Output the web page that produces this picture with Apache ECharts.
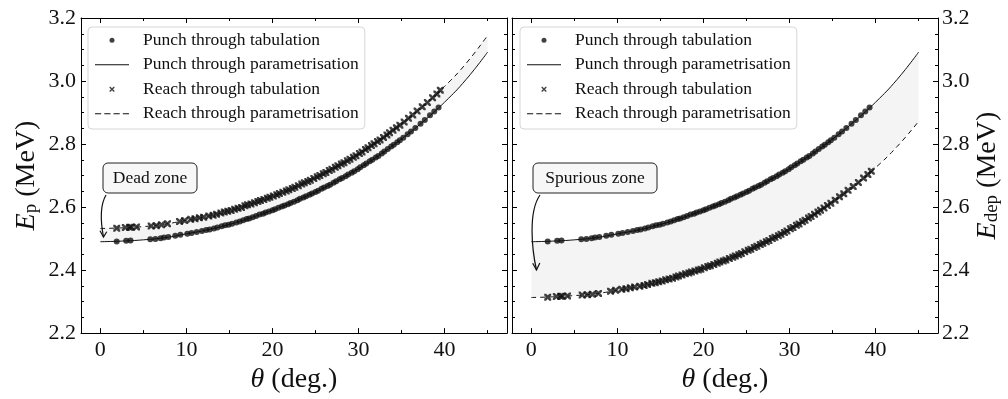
<!DOCTYPE html>
<html>
<head>
<meta charset="utf-8">
<script src="https://cdn.jsdelivr.net/npm/echarts@6/dist/echarts.min.js"></script>
<style>
  html, body { margin: 0; padding: 0; background: #fff; }
  #chart { width: 1008px; height: 399px; }
</style>
</head>
<body>
<div id="chart"></div>
<script>
// parametrisation curves (deg -> MeV), read every 2.5 deg
const paramTheta = [0, 2.5, 5, 7.5, 10, 12.5, 15, 17.5, 20, 22.5, 25, 27.5, 30, 32.5, 35, 37.5, 40, 42.5, 45];
const punchParam = [2.490, 2.492, 2.496, 2.503, 2.515, 2.528, 2.545, 2.566, 2.590, 2.617, 2.648, 2.683, 2.722, 2.766, 2.816, 2.871, 2.933, 3.005, 3.092];
const reachParamEp = [2.532, 2.534, 2.538, 2.546, 2.558, 2.571, 2.588, 2.610, 2.634, 2.661, 2.693, 2.728, 2.768, 2.813, 2.864, 2.920, 2.983, 3.056, 3.145];
const reachParamEdep = [2.313, 2.315, 2.319, 2.325, 2.336, 2.348, 2.364, 2.384, 2.406, 2.431, 2.460, 2.493, 2.529, 2.570, 2.616, 2.667, 2.725, 2.792, 2.872];

// punch through tabulation (same in both panels)
const punchTabTheta = [1.9, 3.0, 3.5, 5.8, 6.4, 7.0, 7.4, 7.9, 8.7, 9.3, 10.1, 10.6, 11.2, 11.8, 12.3, 12.7, 13.2, 13.6, 14.1, 14.5,
  14.9, 15.3, 15.8, 16.2, 16.6, 17.0, 17.3, 17.7, 18.1, 18.5, 18.9, 19.2, 19.6, 20.0, 20.3, 20.7, 21.1, 21.4, 21.8, 22.1,
  22.5, 22.9, 23.2, 23.6, 23.9, 24.3, 24.6, 25.0, 25.3, 25.7, 26.0, 26.4, 26.7, 27.1, 27.4, 27.8, 28.1, 28.5, 28.8, 29.2,
  29.5, 29.9, 30.2, 30.6, 30.9, 31.3, 31.6, 32.0, 32.3, 32.7, 33.0, 33.4, 33.8, 34.1, 34.5, 34.8, 35.2, 35.7, 36.1, 36.6,
  37.2, 37.7, 38.3, 38.8, 39.3];
const punchTabE = [2.491, 2.493, 2.494, 2.498, 2.499, 2.501, 2.503, 2.505, 2.509, 2.512, 2.515, 2.518, 2.521, 2.524, 2.527, 2.529, 2.532, 2.535, 2.539, 2.542,
  2.544, 2.547, 2.551, 2.554, 2.558, 2.562, 2.564, 2.568, 2.572, 2.576, 2.579, 2.583, 2.586, 2.590, 2.593, 2.598, 2.602, 2.605, 2.609, 2.613,
  2.617, 2.622, 2.626, 2.630, 2.634, 2.639, 2.643, 2.648, 2.652, 2.658, 2.662, 2.667, 2.671, 2.677, 2.682, 2.688, 2.692, 2.698, 2.703, 2.709,
  2.714, 2.720, 2.726, 2.733, 2.738, 2.745, 2.750, 2.757, 2.762, 2.770, 2.776, 2.784, 2.792, 2.798, 2.806, 2.812, 2.820, 2.831, 2.840, 2.851,
  2.864, 2.876, 2.891, 2.903, 2.916];

// reach through tabulation: E_p (left) and E_dep (right)
const reachTabTheta = [1.9, 2.9, 3.4, 3.6, 4.2, 5.9, 6.5, 7.1, 7.8, 9.2, 9.8, 10.5, 11.0, 11.5, 12.0, 12.6, 13.1, 13.5, 14.0, 14.4,
  14.8, 15.2, 15.6, 16.0, 16.4, 16.8, 17.1, 17.5, 17.9, 18.3, 18.6, 19.0, 19.4, 19.7, 20.1, 20.5, 20.8, 21.2, 21.6, 21.9,
  22.3, 22.6, 23.0, 23.4, 23.7, 24.1, 24.4, 24.8, 25.2, 25.5, 25.9, 26.2, 26.6, 26.9, 27.3, 27.6, 28.0, 28.3, 28.7, 29.0,
  29.4, 29.7, 30.1, 30.4, 30.8, 31.1, 31.5, 31.8, 32.2, 32.5, 32.9, 33.3, 33.6, 34.0, 34.4, 34.8, 35.3, 35.8, 36.3, 36.8,
  37.4, 38.0, 38.6, 39.1, 39.5];
const reachTabEp = [2.533, 2.535, 2.536, 2.536, 2.537, 2.540, 2.541, 2.544, 2.547, 2.554, 2.557, 2.561, 2.563, 2.566, 2.568, 2.572, 2.574, 2.577, 2.581, 2.584,
  2.587, 2.589, 2.593, 2.596, 2.599, 2.604, 2.607, 2.610, 2.614, 2.618, 2.621, 2.624, 2.628, 2.631, 2.635, 2.639, 2.643, 2.647, 2.651, 2.655,
  2.659, 2.663, 2.668, 2.673, 2.677, 2.681, 2.685, 2.691, 2.696, 2.700, 2.706, 2.710, 2.716, 2.720, 2.726, 2.731, 2.737, 2.741, 2.747, 2.752,
  2.758, 2.763, 2.770, 2.775, 2.783, 2.788, 2.795, 2.801, 2.808, 2.813, 2.821, 2.829, 2.836, 2.844, 2.852, 2.860, 2.870, 2.882, 2.892, 2.905,
  2.918, 2.932, 2.947, 2.959, 2.971];
const reachTabEdep = [2.314, 2.316, 2.317, 2.317, 2.318, 2.321, 2.322, 2.323, 2.326, 2.333, 2.336, 2.339, 2.341, 2.344, 2.346, 2.349, 2.351, 2.354, 2.358, 2.360,
  2.363, 2.365, 2.369, 2.372, 2.374, 2.378, 2.381, 2.384, 2.388, 2.391, 2.394, 2.397, 2.400, 2.403, 2.407, 2.411, 2.414, 2.418, 2.422, 2.426,
  2.429, 2.432, 2.437, 2.441, 2.445, 2.449, 2.453, 2.458, 2.463, 2.466, 2.472, 2.476, 2.481, 2.485, 2.490, 2.494, 2.500, 2.504, 2.509, 2.514,
  2.519, 2.524, 2.531, 2.535, 2.542, 2.546, 2.553, 2.558, 2.565, 2.570, 2.577, 2.584, 2.590, 2.597, 2.605, 2.612, 2.622, 2.633, 2.642, 2.653,
  2.665, 2.678, 2.692, 2.703, 2.714];

const xMajor = [0, 10, 20, 30, 40];
const xMinor = [5, 15, 25, 35, 45];

const FONT = 'Liberation Serif';
const INK = '#111';
const zip = (xs, ys) => xs.map((x, i) => [x, ys[i]]);

const crossPath = 'path://M0,0L2,0L5,3L8,0L10,0L10,2L7,5L10,8L10,10L8,10L5,7L2,10L0,10L0,8L3,5L0,2Z';
const crossBold = 'path://M0,0L2.6,0L5,2.4L7.4,0L10,0L10,2.6L7.6,5L10,7.4L10,10L7.4,10L5,7.6L2.6,10L0,10L0,7.4L2.4,5L0,2.6Z';

function xAxes(grid) {
  const base = { type: 'value', gridIndex: grid, min: -2.25, max: 47.25, z: 10, splitLine: { show: false } };
  const line = { show: true, onZero: false, lineStyle: { color: '#000', width: 1 } };
  const tick = (vals, len) => ({ show: true, inside: true, length: len, customValues: vals, lineStyle: { color: '#000', width: 1 } });
  return [
    Object.assign({}, base, {
      position: 'bottom', axisLine: line, axisTick: tick(xMajor, 5),
      axisLabel: { customValues: xMajor, margin: 6, fontFamily: FONT, fontSize: 22, color: INK },
      name: '{i|θ} (deg.)', nameLocation: 'middle', nameGap: 28,
      nameTextStyle: { fontFamily: FONT, fontSize: 28, color: INK, rich: { i: { fontFamily: FONT, fontSize: 28, fontStyle: 'italic', color: INK } } }
    }),
    Object.assign({}, base, { position: 'bottom', axisLine: { show: false }, axisTick: tick(xMinor, 3), axisLabel: { show: false } }),
    Object.assign({}, base, { position: 'top', axisLine: line, axisTick: tick(xMajor, 5), axisLabel: { show: false } }),
    Object.assign({}, base, { position: 'top', axisLine: { show: false }, axisTick: tick(xMinor, 3), axisLabel: { show: false } })
  ];
}

function yAxis(grid, position, withLabel, name, gap) {
  const ax = {
    type: 'value', gridIndex: grid, position: position, min: 2.2, max: 3.2, interval: 0.2, z: 10,
    axisLine: { show: true, onZero: false, lineStyle: { color: '#000', width: 1 } },
    axisTick: { show: true, inside: true, length: 5, lineStyle: { color: '#000' } },
    minorTick: { show: true, splitNumber: 4, length: 3, lineStyle: { color: '#000' } },
    splitLine: { show: false },
    axisLabel: { show: withLabel, margin: position === 'left' ? 5 : 4, fontFamily: FONT, fontSize: 22, color: INK,
      formatter: v => v.toFixed(1) }
  };
  if (name) {
    Object.assign(ax, {
      name: name, nameLocation: 'middle', nameGap: gap, nameRotate: 90,
      nameTextStyle: {
        fontFamily: FONT, fontSize: 28, color: INK,
        rich: {
          e: { fontFamily: FONT, fontSize: 28, fontStyle: 'italic', color: INK },
          s: { fontFamily: FONT, fontSize: 19, color: INK, verticalAlign: 'bottom', lineHeight: 12 }
        }
      }
    });
  }
  return ax;
}

function legend(left) {
  return {
    orient: 'vertical', left: left, top: 27, selectedMode: false,
    itemWidth: 34, itemHeight: 5, itemGap: 0,
    padding: [1, 6, 3, 7],
    backgroundColor: 'rgba(255,255,255,0.85)', borderColor: '#d6d6d6', borderWidth: 1, borderRadius: 4,
    textStyle: { fontFamily: FONT, fontSize: 17.5, color: INK, lineHeight: 24.5, padding: [0, 0, 0, 9] },
    data: [
      { name: 'Punch through tabulation', icon: 'circle', itemStyle: { color: INK } },
      { name: 'Punch through parametrisation', icon: 'path://M0,0H34V1H0Z', itemStyle: { color: INK } },
      { name: 'Reach through tabulation', icon: crossPath, itemStyle: { color: INK } },
      { name: 'Reach through parametrisation', icon: 'path://M0,0H6V1H0ZM9,0H15V1H9ZM18,0H24V1H18ZM27,0H33V1H27Z', itemStyle: { color: INK } }
    ]
  };
}

function panelSeries(xi, yi, reachParam, reachTab) {
  return [
    {
      // grey zone between the two parametrisations
      type: 'custom', xAxisIndex: xi, yAxisIndex: yi, z: 1, silent: true, clip: true,
      data: [[paramTheta[0], punchParam[0]]],
      renderItem: function (params, api) {
        const top = paramTheta.map((t, i) => api.coord([t, Math.max(punchParam[i], reachParam[i])]));
        const bottom = paramTheta.map((t, i) => api.coord([t, Math.min(punchParam[i], reachParam[i])])).reverse();
        return { type: 'polygon', shape: { points: top.concat(bottom) }, style: { fill: '#f4f4f4', stroke: null } };
      }
    },
    {
      name: 'Punch through parametrisation', type: 'line', xAxisIndex: xi, yAxisIndex: yi, z: 3,
      data: zip(paramTheta, punchParam), smooth: true, showSymbol: false, symbol: 'none',
      lineStyle: { color: INK, width: 1 }, itemStyle: { color: INK }
    },
    {
      name: 'Reach through parametrisation', type: 'line', xAxisIndex: xi, yAxisIndex: yi, z: 3,
      data: zip(paramTheta, reachParam), smooth: true, showSymbol: false, symbol: 'none',
      lineStyle: { color: INK, width: 1, type: [5, 4] }, itemStyle: { color: INK }
    },
    {
      name: 'Punch through tabulation', type: 'scatter', xAxisIndex: xi, yAxisIndex: yi, z: 4,
      data: zip(punchTabTheta, punchTabE), symbol: 'circle', symbolSize: 6, itemStyle: { color: INK }
    },
    {
      name: 'Reach through tabulation', type: 'scatter', xAxisIndex: xi, yAxisIndex: yi, z: 4,
      data: zip(reachTabTheta, reachTab), symbol: crossBold, symbolSize: 7, itemStyle: { color: INK }
    }
  ];
}

function callout(label, box, curve, head) {
  return [
    { type: 'rect', z: 100, shape: { x: box[0], y: box[1], width: box[2], height: box[3], r: 5 },
      style: { fill: '#f7f7f7', stroke: '#222', lineWidth: 1 } },
    { type: 'text', z: 101, x: box[0] + box[2] / 2, y: box[1] + box[3] / 2,
      style: { text: label, fontFamily: FONT, fontSize: 17.5, fill: INK, align: 'center', verticalAlign: 'middle' } },
    { type: 'bezierCurve', z: 100, shape: { x1: curve[0], y1: curve[1], cpx1: curve[2], cpy1: curve[3], cpx2: curve[4], cpy2: curve[5], x2: curve[6], y2: curve[7] },
      style: { fill: 'none', stroke: '#111', lineWidth: 1.2 } },
    { type: 'polyline', z: 100, shape: { points: head }, style: { fill: 'none', stroke: '#111', lineWidth: 1.2 } }
  ];
}

const chart = echarts.init(document.getElementById('chart'), null, { renderer: 'canvas' });
chart.setOption({
  animation: false,
  backgroundColor: '#fff',
  grid: [
    { left: 81, top: 18, width: 426, height: 319 },
    { left: 512, top: 18, width: 426, height: 319 }
  ],
  xAxis: xAxes(0).concat(xAxes(1)),
  yAxis: [
    yAxis(0, 'left', true, '{e|E}{s|p} (MeV)', 40),
    yAxis(0, 'right', false),
    yAxis(1, 'left', false),
    yAxis(1, 'right', true, '{e|E}{s|dep} (MeV)', 36)
  ],
  legend: [legend(88), legend(520)],
  series: panelSeries(0, 0, reachParamEp, reachTabEp)
    .concat(panelSeries(4, 3, reachParamEdep, reachTabEdep)),
  graphic: callout('Dead zone', [103, 163, 94, 30], [106, 195, 99, 207, 101, 224, 103.5, 237], [[100, 230.7], [103.5, 237], [106.7, 231.7]])
    .concat(callout('Spurious zone', [533, 163, 124, 30], [540, 195, 528, 212, 532, 250, 536.5, 270], [[532.7, 263.3], [536.5, 270], [539.8, 262.9]]))
});
</script>
</body>
</html>
